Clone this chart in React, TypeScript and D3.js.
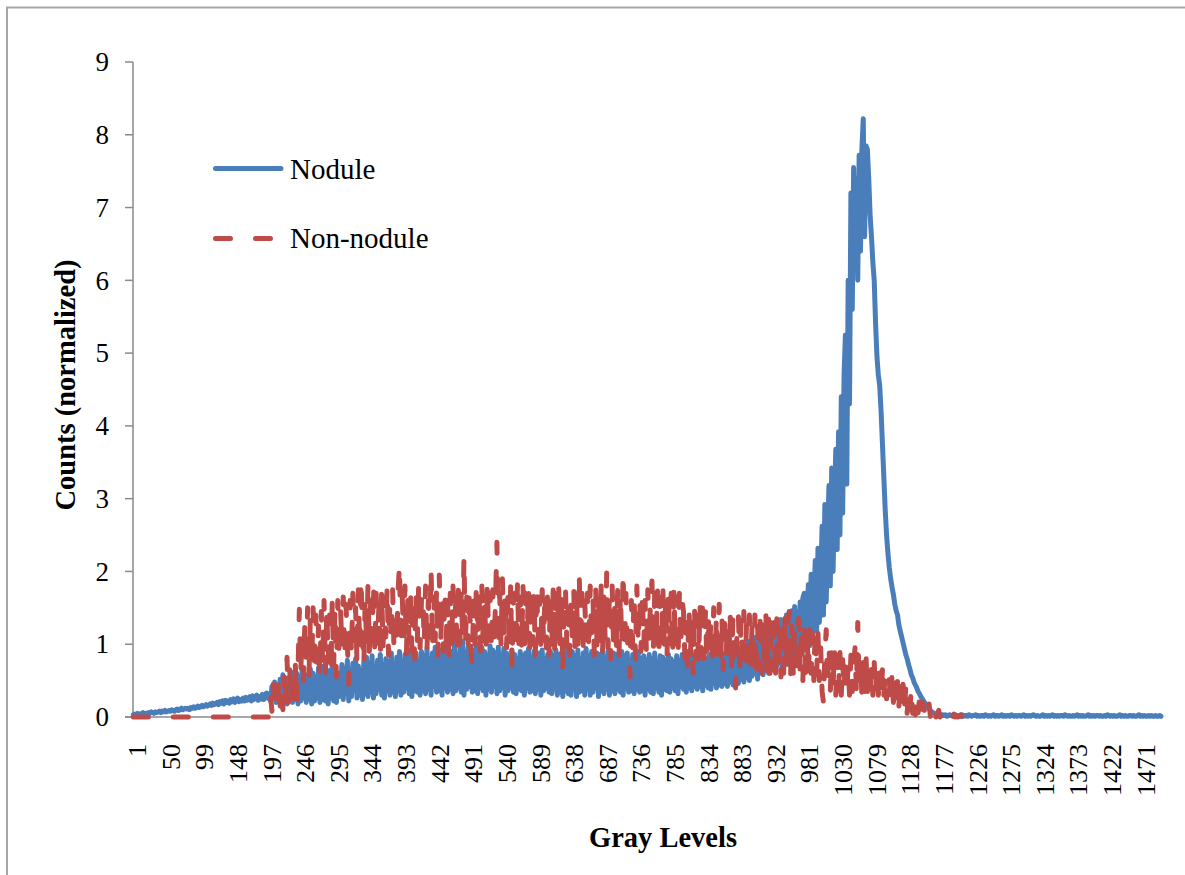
import React from "react";
import * as d3 from "d3";

// Histogram of gray levels, sampled every GRAY_STEP levels starting at GRAY_START.
// Counts are stored as hundredths (value × 100).
const GRAY_START = 1;
const GRAY_STEP = 2;
const GRAY_LEVELS = 1500;

const grayTicks = [
  1, 50, 99, 148, 197, 246, 295, 344, 393, 442, 491, 540, 589, 638, 687, 736,
  785, 834, 883, 932, 981, 1030, 1079, 1128, 1177, 1226, 1275, 1324, 1373,
  1422, 1471,
];

const countTicks = [0, 1, 2, 3, 4, 5, 6, 7, 8, 9];

const seriesNames = ["Nodule", "Non-nodule"];

const noduleCounts = [
  // 1 – 199
  3, 4, 3, 5, 4, 4, 5, 6, 4, 5, 5, 6, 5, 7, 6, 5, 7, 6, 7, 8,
  6, 8, 7, 9, 7, 8, 9, 8, 10, 9, 8, 10, 11, 9, 10, 12, 10, 11, 12, 11,
  12, 10, 13, 12, 14, 12, 13, 15, 13, 14, 16, 14, 15, 17, 15, 16, 18, 16, 19, 17,
  18, 20, 17, 21, 19, 22, 18, 23, 20, 22, 19, 24, 21, 25, 20, 23, 26, 21, 24, 22,
  26, 22, 27, 23, 25, 28, 22, 29, 24, 27, 30, 23, 28, 25, 31, 24, 29, 33, 26, 32,
  // 201 – 301
  22, 42, 26, 48, 20, 38, 24, 52, 28, 58, 22, 46, 18, 54, 24, 62, 20, 50, 26, 60,
  18, 56, 22, 64, 26, 52, 20, 58, 24, 66, 18, 60, 22, 54, 26, 68, 20, 62, 24, 70,
  22, 58, 18, 64, 26, 72, 22, 66, 20, 60, 28,
  // 303 – 901
  30, 72, 24, 66, 34, 78, 22, 60, 28, 74, 36, 80, 26, 70, 30, 64, 24, 76, 32, 82,
  28, 74, 34, 84, 26, 68, 32, 78, 38, 86, 30, 72, 26, 80, 36, 76, 30, 88, 34, 70,
  28, 82, 36, 90, 30, 76, 34, 86, 40, 80, 32, 92, 28, 78, 36, 88, 34, 74, 30, 90,
  36, 84, 32, 94, 38, 80, 30, 88, 42, 96, 34, 82, 36, 92, 30, 86, 40, 98, 34, 84,
  38, 90, 32, 100, 36, 86, 40, 94, 34, 104, 30, 88, 38, 96, 42, 84, 34, 92, 36, 100,
  32, 86, 40, 96, 36, 90, 30, 84, 38, 98, 34, 92, 42, 88, 32, 96, 36, 86, 40, 94,
  30, 88, 36, 82, 40, 92, 34, 86, 32, 80, 38, 90, 36, 84, 30, 88, 40, 94, 34, 82,
  36, 90, 32, 84, 38, 88, 30, 92, 36, 80, 40, 86, 34, 90, 32, 84, 38, 92, 30, 86,
  34, 88, 28, 82, 36, 94, 32, 86, 30, 90, 38, 84, 28, 92, 34, 80, 36, 88, 30, 94,
  38, 84, 30, 90, 34, 80, 40, 88, 28, 86, 36, 92, 32, 82, 38, 90, 30, 84, 36, 88,
  32, 86, 38, 80, 34, 90, 30, 84, 40, 88, 34, 78, 36, 86, 32, 82, 38, 90, 34, 80,
  36, 84, 30, 78, 38, 86, 34, 80, 32, 88, 40, 76, 34, 84, 30, 82, 38, 78, 36, 86,
  34, 80, 40, 76, 36, 84, 32, 78, 42, 86, 38, 74, 34, 82, 40, 78, 36, 84, 42, 80,
  38, 76, 42, 84, 36, 72, 44, 80, 40, 86, 38, 78, 46, 82, 40, 88, 44, 80, 42, 86,
  46, 90, 42, 84, 48, 94, 44, 88, 50, 98, 46, 92, 52, 100, 48, 96, 54, 104, 50, 98,
  // 903 – 977
  56, 102, 60, 110, 52, 106, 62, 116, 58, 112, 64, 120, 60, 124, 68, 118, 64, 128, 70, 122,
  74, 134, 68, 130, 76, 140, 72, 136, 80, 146, 76, 152, 84, 144, 80, 158, 88, 164,
  // 979 – 1067 (peak)
  170, 92, 140, 182, 98, 196, 110, 160, 215, 118,
  232, 130, 190, 262, 140, 292, 158, 240, 318, 180,
  342, 200, 290, 368, 230, 392, 250, 440, 280, 470,
  525, 320, 600, 430, 720, 560, 755, 620, 740, 600,
  772, 640, 780, 822, 660,
  // 1069 – 1173
  785, 780, 740, 690, 660, 625, 600, 540, 495, 470,
  455, 420, 375, 330, 285, 250, 225, 205, 190, 178,
  168, 155, 146, 140, 126, 118, 110, 102, 94, 86,
  80, 72, 66, 58, 54, 48, 44, 40, 35, 32,
  28, 25, 22, 19, 16, 13, 11, 9, 7, 6,
  5, 4, 4,
  // 1175 – 1499
  3, 4, 2, 3, 2, 3, 1, 2, 3, 2, 2, 1, 3, 2, 2, 1, 2, 3, 1, 2,
  2, 1, 3, 2, 1, 2, 2, 3, 1, 2, 1, 2, 2, 1, 3, 2, 1, 2, 1, 2,
  3, 1, 2, 2, 1, 2, 3, 1, 2, 1, 2, 2, 1, 3, 2, 1, 2, 1, 2, 2,
  1, 2, 3, 1, 2, 1, 2, 1, 2, 3, 2, 1, 2, 1, 1, 2, 3, 1, 2, 1,
  2, 1, 2, 3, 1, 2, 1, 2, 1, 2, 2, 1, 3, 2, 1, 2, 1, 1, 2, 1,
  2, 3, 1, 2, 1, 2, 1, 1, 2, 3, 1, 2, 1, 2, 1, 2, 2, 1, 2, 1,
  1, 2, 1, 3, 2, 1, 2, 1, 2, 1, 1, 2, 3, 1, 2, 1, 2, 1, 1, 2,
  2, 1, 2, 1, 1, 2, 3, 1, 2, 1, 2, 1, 1, 2, 1, 2, 1, 1, 2, 1,
  1, 2, 1,
];

const nonNoduleCounts = [
  // 1 – 197
  0, 0, 0, 0, 0, 0, 0, 0, 0, 0, 0, 0, 0, 0, 0, 0, 0, 0, 0, 0,
  0, 0, 0, 0, 0, 0, 0, 0, 0, 0, 0, 0, 0, 0, 0, 0, 0, 0, 0, 0,
  0, 0, 0, 0, 0, 0, 0, 0, 0, 0, 0, 0, 0, 0, 0, 0, 0, 0, 0, 0,
  0, 0, 0, 0, 0, 0, 0, 0, 0, 0, 0, 0, 0, 0, 0, 0, 0, 0, 0, 0,
  0, 0, 0, 0, 0, 0, 0, 0, 0, 0, 0, 0, 0, 0, 0, 0, 0, 0, 0,
  // 199 – 241
  0, 30, 8, 45, 12, 40, 8, 50, 15, 45, 10, 55, 15, 82, 20, 65, 20, 55, 25, 75, 20, 60,
  // 243 – 301
  148, 60, 115, 50, 130, 65, 150, 55, 135, 70,
  150, 60, 140, 75, 125, 55, 145, 70, 160, 60,
  150, 75, 140, 60, 160, 70, 150, 55, 160, 80,
  // 303 – 801
  150, 95, 165, 80, 155, 100, 45, 160, 85, 170, 105, 150, 75, 175, 90, 190, 110, 70, 165, 95,
  180, 90, 160, 105, 185, 85, 170, 100, 155, 80, 175, 95, 165, 110, 180, 85, 160, 100, 175, 90,
  150, 100, 175, 210, 95, 165, 110, 180, 85, 160, 100, 175, 90, 165, 80, 170, 105, 185, 95, 160,
  170, 100, 180, 90, 160, 110, 205, 95, 165, 105, 175, 85, 195, 100, 160, 90, 175, 105, 160, 80,
  170, 95, 180, 105, 160, 85, 185, 100, 170, 110, 220, 95, 165, 100, 175, 90, 74, 160, 100, 180,
  110, 170, 90, 180, 100, 165, 95, 185, 105, 170, 90, 175, 100, 160, 240, 95, 170, 100, 190, 110,
  175, 95, 165, 90, 180, 69, 160, 170, 90, 185, 100, 165, 95, 180, 85, 170, 105, 180, 95, 175,
  100, 170, 85, 180, 105, 165, 90, 175, 100, 170, 95, 180, 85, 165, 100, 175, 90, 170, 105, 180,
  95, 170, 60, 160, 175, 95, 165, 85, 160, 100, 175, 90, 165, 100, 198, 95, 170, 85, 160, 105,
  170, 90, 180, 100, 165, 85, 175, 95, 170, 105, 180, 90, 165, 100, 198, 95, 170, 80, 180, 100,
  165, 95, 175, 85, 170, 100, 200, 90, 170, 105, 95, 55, 160, 95, 170, 80, 180, 100, 165, 90,
  170, 95, 160, 85, 175, 100, 165, 187, 90, 170, 100, 175, 80, 165, 95, 175, 100, 165, 85, 175,
  100, 170, 85, 175, 95, 165, 80, 170, 95, 160,
  // 803 – 901
  145, 80, 130, 70, 150, 85, 135, 60, 150, 80, 140, 75, 155, 85, 165, 80, 145, 75, 140, 90,
  135, 70, 150, 80, 140, 75, 155, 70, 135, 65, 145, 80, 130, 75, 140, 70, 135, 60, 40, 120,
  140, 70, 135, 65, 145, 75, 130, 60, 140, 70,
  // 903 – 1001
  130, 60, 140, 55, 125, 65, 145, 60, 130, 70, 145, 55, 135, 60, 140, 65, 130, 50, 135, 60,
  125, 55, 135, 60, 140, 65, 130, 145, 55, 125, 60, 120, 55, 130, 135, 60, 125, 50, 120, 60,
  125, 55, 120, 60, 115, 50, 125, 55, 115, 50,
  // 1003 – 1101
  95, 35, 20, 85, 120, 40, 100, 35, 90, 40, 95, 30, 85, 35, 90, 30, 80, 35, 85, 30,
  75, 30, 85, 35, 70, 95, 35, 130, 40, 80, 30, 75, 35, 85, 30, 75, 25, 70, 30, 75,
  30, 70, 30, 65, 25, 65, 30, 60, 25, 60,
  // 1103 – 1151
  50, 15, 60, 20, 55, 10, 50, 15, 55, 8, 45, 12, 40, 5, 35, 10, 40, 5, 30, 3, 30, 6, 25, 3, 20,
  // 1153 – 1213
  15, 3, 10, 2, 18, 0, 8, 3, 12, 0, 4, 9, 0, 3, 6, 0, 2, 5, 0, 3, 1, 0, 4, 0, 2, 0, 1, 3, 0, 1, 0,
];

const seriesColors = ["#4A7EBB", "#BE4B48"];
const FONT = "'Liberation Serif', 'Times New Roman', serif";

const WIDTH = 1185;
const HEIGHT = 875;
const plot = { left: 133, right: 1162, top: 62, bottom: 717 };

type Pt = { level: number; value: number };

const toPoints = (counts: number[]): Pt[] =>
  counts.map((v, i) => ({ level: GRAY_START + i * GRAY_STEP, value: v / 100 }));

export default function App() {
  const x = d3
    .scaleLinear()
    .domain([0.5, GRAY_LEVELS + 0.5])
    .range([plot.left, plot.right]);
  const y = d3.scaleLinear().domain([0, 9]).range([plot.bottom, plot.top]);

  const line = d3
    .line<Pt>()
    .x((d) => x(d.level))
    .y((d) => y(d.value));

  const series = [toPoints(noduleCounts), toPoints(nonNoduleCounts)];
  const axisColor = "#8a8a8a";

  return (
    <svg
      width={WIDTH}
      height={HEIGHT}
      style={{ position: "absolute", left: 0, top: 0, display: "block", background: "#fff" }}
      fontFamily={FONT}
    >
      <rect x={0} y={0} width={WIDTH} height={HEIGHT} fill="#fff" />
      {/* chart frame */}
      <rect
        x={7}
        y={7.5}
        width={WIDTH + 20}
        height={HEIGHT + 20}
        fill="none"
        stroke="#a6a6a6"
        strokeWidth={2}
      />

      {/* y axis */}
      <line x1={plot.left} x2={plot.left} y1={y(9)} y2={y(0)} stroke={axisColor} strokeWidth={1.5} />
      {countTicks.map((t) => (
        <g key={t}>
          <line x1={plot.left - 8} x2={plot.left} y1={y(t)} y2={y(t)} stroke={axisColor} strokeWidth={1.5} />
          <text x={109} y={y(t)} dy="0.34em" textAnchor="end" fontSize={27} fill="#000">
            {t}
          </text>
        </g>
      ))}

      {/* x axis */}
      <line x1={plot.left - 8} x2={plot.right} y1={y(0)} y2={y(0)} stroke={axisColor} strokeWidth={1.5} />
      {grayTicks.map((t) => (
        <text
          key={t}
          transform={`translate(${x(t) + 4},744) rotate(-90)`}
          dy="0.34em"
          textAnchor="end"
          fontSize={26}
          fill="#000"
        >
          {t}
        </text>
      ))}

      {/* series */}
      <path
        d={line(series[0]) ?? ""}
        fill="none"
        stroke={seriesColors[0]}
        strokeWidth={5}
        strokeLinejoin="round"
        strokeLinecap="round"
      />
      <path
        d={line(series[1]) ?? ""}
        fill="none"
        stroke={seriesColors[1]}
        strokeWidth={5}
        strokeLinejoin="round"
        strokeLinecap="round"
        strokeDasharray="15 25"
      />

      {/* legend */}
      <line x1={215.5} x2={281} y1={168.5} y2={168.5} stroke={seriesColors[0]} strokeWidth={5} strokeLinecap="round" />
      <text x={290} y={179} fontSize={29} fill="#000">
        {seriesNames[0]}
      </text>
      <line
        x1={215.5}
        x2={281}
        y1={238.5}
        y2={238.5}
        stroke={seriesColors[1]}
        strokeWidth={5}
        strokeLinecap="round"
        strokeDasharray="15 25"
      />
      <text x={290} y={248} fontSize={29} fill="#000">
        {seriesNames[1]}
      </text>

      {/* axis titles */}
      <text x={663} y={847} textAnchor="middle" fontSize={28.5} fontWeight="bold" fill="#000">
        Gray Levels
      </text>
      <text
        transform="translate(75,385) rotate(-90)"
        textAnchor="middle"
        fontSize={28.5}
        fontWeight="bold"
        fill="#000"
      >
        Counts (normalized)
      </text>
    </svg>
  );
}
